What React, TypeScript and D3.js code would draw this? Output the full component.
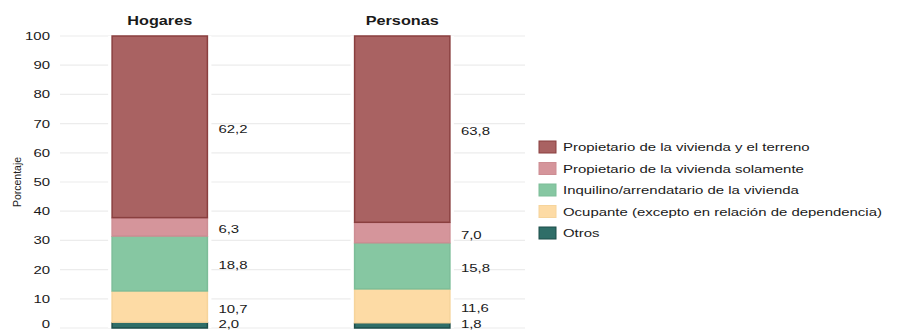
import React from "react";
import * as d3 from "d3";

// Tenure categories, bottom to top of each stacked bar
const categories = [
  "Otros",
  "Ocupante (excepto en relación de dependencia)",
  "Inquilino/arrendatario de la vivienda",
  "Propietario de la vivienda solamente",
  "Propietario de la vivienda y el terreno",
];
const groups = ["Hogares", "Personas"];
const hogares = [2.0, 10.7, 18.8, 6.3, 62.2];
const personas = [1.8, 11.6, 15.8, 7.0, 63.8];
const fills = ["#2f6e68", "#fddba5", "#86c7a2", "#d5959b", "#a96262"];
const strokes = ["#1d4d49", "#f6d49b", "#7cbd98", "#cd8d93", "#8a3f3f"];
const yTicks = [0, 10, 20, 30, 40, 50, 60, 70, 80, 90, 100];

const W = 897;
const H = 331;
const SX = 1.3; // text in the reference is stretched horizontally

function T({ x, y, anchor = "start", size = 11.5, bold = false, children }: any) {
  return (
    <text
      transform={`translate(${x},${y}) scale(${SX},1)`}
      dy="0.35em"
      textAnchor={anchor}
      fontSize={size}
      fontWeight={bold ? "bold" : "normal"}
      fill="#1a1a1a"
    >
      {children}
    </text>
  );
}

export default function App() {
  const y = d3.scaleLinear().domain([0, 100]).range([328, 36]);
  const x = d3
    .scaleBand()
    .domain(groups)
    .range([63.6, 498.4])
    .paddingInner(0.607)
    .paddingOuter(0.2);
  const series = [hogares, personas];
  const fmt = (v: number) => v.toFixed(1).replace(".", ",");
  const legendOrder = categories.map((c, i) => i).reverse();
  const legendY = d3.scalePoint<number>().domain(legendOrder).range([147, 233]);

  return (
    <svg
      width={W}
      height={H}
      style={{ position: "absolute", left: 0, top: 0, background: "#fff" }}
      fontFamily="'Liberation Sans', Arial, sans-serif"
    >
      {yTicks.map((t) => (
        <g key={t}>
          <line x1={60} x2={525} y1={y(t)} y2={y(t)} stroke="#ececec" strokeWidth={1.2} />
          <T x={50} y={t === 0 ? y(t) - 4 : y(t)} anchor="end">
            {t}
          </T>
        </g>
      ))}
      <text
        transform={`translate(17,${y(50)}) rotate(-90)`}
        dy="0.35em"
        textAnchor="middle"
        fontSize={10.5}
        fill="#222"
      >
        Porcentaje
      </text>
      {groups.map((g, gi) => {
        const vals = series[gi];
        const stack = d3.cumsum(vals);
        const bx = x(g)!;
        const bw = x.bandwidth();
        return (
          <g key={g}>
            <T x={bx + bw / 2} y={21} anchor="middle" size={12.5} bold>
              {g}
            </T>
            {vals.map((v, i) => {
              const y0 = i === 0 ? 0 : stack[i - 1];
              const y1 = stack[i];
              return (
                <g key={i}>
                  <rect x={bx - 4} y={y(y1)} width={bw + 8} height={y(y0) - y(y1)} fill="#fff" />
                  <rect
                    x={bx}
                    y={y(y1)}
                    width={bw}
                    height={y(y0) - y(y1)}
                    fill={fills[i]}
                    stroke={strokes[i]}
                    strokeWidth={1.5}
                  />
                </g>
              );
            })}
            {vals.map((v, i) => {
              const y0 = i === 0 ? 0 : stack[i - 1];
              const y1 = stack[i];
              return (
                <T key={"l" + i} x={bx + bw + 11} y={Math.min(y((y0 + y1) / 2) + 2, 324)}>
                  {fmt(v)}
                </T>
              );
            })}
          </g>
        );
      })}
      {legendOrder.map((i) => (
        <g key={i} transform={`translate(539,${legendY(i)})`}>
          <rect x={0} y={-6} width={17} height={12} fill={fills[i]} stroke={strokes[i]} strokeWidth={1} />
          <T x={24} y={0}>
            {categories[i]}
          </T>
        </g>
      ))}
    </svg>
  );
}
